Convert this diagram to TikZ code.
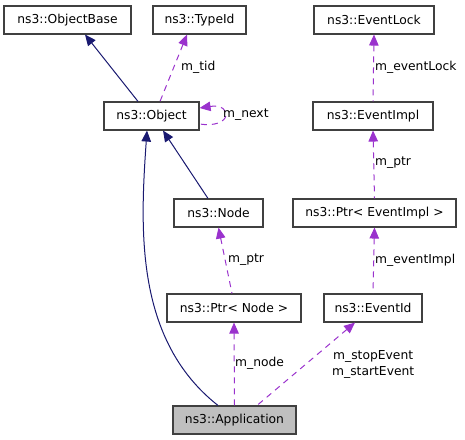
\documentclass[tikz,border=0pt]{standalone}
\usepackage{fontspec}
\setmainfont{DejaVu Sans}
\usetikzlibrary{arrows.meta}
\definecolor{inhcol}{HTML}{191970}
\definecolor{usecol}{HTML}{9A32CD}
\definecolor{boxcol}{HTML}{404040}
\definecolor{appfill}{HTML}{BFBFBF}
\begin{document}
\begin{tikzpicture}[x=1bp,y=-1bp,
  cls/.style={draw=boxcol,line width=1.1bp,minimum height=28bp,inner sep=0pt,font=\fontsize{12.3bp}{14bp}\selectfont},
  inh/.style={draw=inhcol,line width=1bp,{Triangle[length=11bp,width=9.5bp]}-},
  use/.style={draw=usecol,line width=1bp,dash pattern=on 6bp off 5bp,{Triangle[length=11bp,width=9.5bp]}-},
  lbl/.style={anchor=west,inner sep=0pt,font=\fontsize{12.3bp}{14bp}\selectfont}]
\useasboundingbox (0,0) rectangle (465,440);
\node[cls,minimum width=127bp] (objbase) at (67.5,20) {ns3::ObjectBase};
\node[cls,minimum width=93bp] (typeid) at (199.5,20) {ns3::TypeId};
\node[cls,minimum width=120bp] (elock) at (374,20) {ns3::EventLock};
\node[cls,minimum width=95bp] (obj) at (151.5,116) {ns3::Object};
\node[cls,minimum width=120bp] (eimpl) at (373,116) {ns3::EventImpl};
\node[cls,minimum width=89bp] (node) at (218.5,213) {ns3::Node};
\node[cls,minimum width=163bp] (peimpl) at (374.5,213) {ns3::Ptr< EventImpl >};
\node[cls,minimum width=134bp] (pnode) at (234,308) {ns3::Ptr< Node >};
\node[cls,minimum width=98bp] (eid) at (373,308) {ns3::EventId};
\node[cls,minimum width=123bp,fill=appfill] (app) at (234.5,420) {ns3::Application};

% inheritance
\draw[inh] ([xshift=17.5bp]objbase.south) -- ([xshift=-13.5bp]obj.north);
\draw[inh] ([xshift=11.5bp]obj.south) -- ([xshift=-10.5bp]node.north);
\draw[inh] ([xshift=-4.5bp]obj.south) .. controls (140,230) and (135,340) .. ([xshift=-16.5bp]app.north);

% usage
\draw[use] ([xshift=-12.5bp]typeid.south) -- ([xshift=8.5bp]obj.north);
\node[lbl] (ltid) at (181,67) {m\_tid};
\draw[use] ([yshift=8bp]obj.east) .. controls (233,103) and (233,129) .. ([yshift=-8bp]obj.east);
\node[lbl] (lnext) at (223,115) {m\_next};
\draw[use] (elock.south) -- (eimpl.north);
\node[lbl] (llock) at (375,67) {m\_eventLock};
\draw[use] (eimpl.south) -- (peimpl.north);
\node[lbl] (lptr1) at (375,163) {m\_ptr};
\draw[use] (peimpl.south) -- (eid.north);
\node[lbl] (limpl) at (375,260) {m\_eventImpl};
\draw[use] (node.south) -- ([xshift=-2bp]pnode.north);
\node[lbl] (lptr2) at (228,260) {m\_ptr};
\draw[use] (pnode.south) -- (app.north);
\node[lbl] (lnode) at (235,363) {m\_node};
\draw[use] ([xshift=-18bp]eid.south) -- ([xshift=22.5bp]app.north);
\node[lbl] (lstop) at (333,356) {m\_stopEvent};
\node[lbl] (lstart) at (332,372) {m\_startEvent};
\end{tikzpicture}
\end{document}
